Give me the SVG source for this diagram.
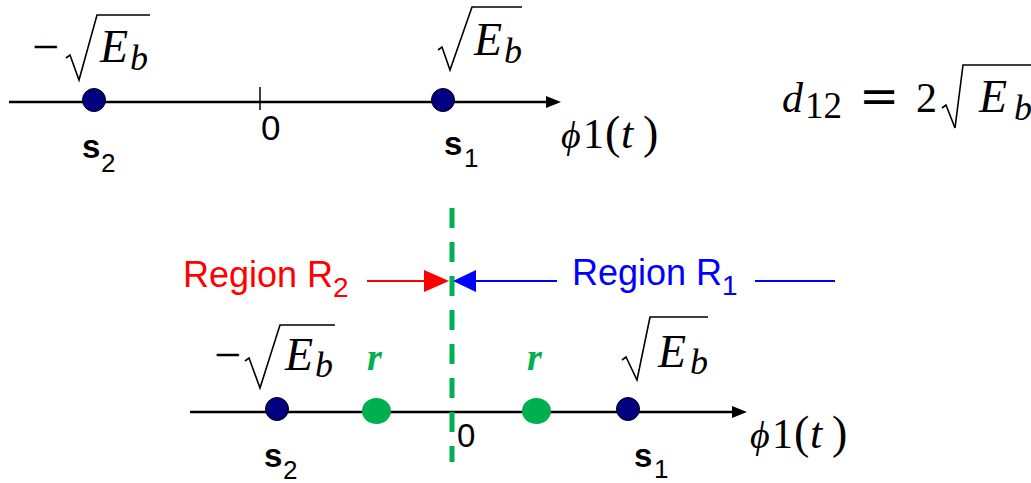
<svg xmlns="http://www.w3.org/2000/svg" width="1031" height="483" viewBox="0 0 1031 483">
<defs>
<style>
.m{font-family:"Liberation Serif","DejaVu Serif",serif;font-size:42px;fill:#000}
.mi{font-style:italic}
.e{font-size:46px}
.b{font-size:36px}
.ph{font-size:38px}
.p{font-size:46px}
.rad{fill:none;stroke:#000;stroke-width:1.6;stroke-linejoin:miter}
.axis{stroke:#000;stroke-width:2.5;fill:none}
.sl{font-family:"Liberation Sans",Arial,sans-serif;fill:#000}
.sb{font-weight:bold;font-size:33px}
.ss{font-size:26px}
.dot{fill:#000080;stroke:#000;stroke-width:1}
.g{fill:#00b050}
.zero{font-family:"Liberation Sans",Arial,sans-serif;fill:#000}
.reg{font-family:"Liberation Sans",Arial,sans-serif;font-size:36px}
.rr{font-family:"Liberation Serif",serif;font-style:italic;font-weight:bold;font-size:38px;fill:#00b050}
</style>
</defs>
<rect width="1031" height="483" fill="#fff"/>

<g id="connectors">
  <line class="axis" x1="9" y1="102" x2="549" y2="102"/>
  <polygon points="546,96 561,102 546,108" fill="#000"/>
  <line x1="260" y1="87" x2="260" y2="110" stroke="#000" stroke-width="1.5"/>
  <line class="axis" x1="190" y1="412" x2="735" y2="412"/>
  <polygon points="732,406 747,412 732,418" fill="#000"/>
  <line x1="452" y1="208" x2="452" y2="462" stroke="#00b050" stroke-width="5" stroke-dasharray="20 14"/>
  <line x1="367" y1="281" x2="426" y2="281" stroke="#ff0000" stroke-width="2"/>
  <polygon points="424,270 449,281 424,292" fill="#ff0000"/>
  <polygon points="476,270 453,281 476,292" fill="#0000ff"/>
  <line x1="474" y1="281" x2="557" y2="281" stroke="#0000ff" stroke-width="2"/>
  <line x1="755" y1="281" x2="835" y2="281" stroke="#0000ff" stroke-width="2"/>
</g>

<g id="s2-top">
  <circle class="dot" cx="94" cy="100" r="11.5"/>
  <text class="sl" y="158"><tspan class="sb" x="82">s</tspan><tspan class="ss" x="101" y="172">2</tspan></text>
  <text class="m" x="32" y="63" style="font-size:48px">−</text>
  <path class="rad" d="M66,58 L70,55 L79,80 L97,15 L150,15"/>
  <text class="m mi e" x="100" y="62">E</text>
  <text class="m mi b" x="130" y="70">b</text>
</g>

<g id="s1-top">
  <circle class="dot" cx="443" cy="100" r="11.5"/>
  <text class="sl" y="155"><tspan class="sb" x="444">s</tspan><tspan class="ss" x="464" y="167">1</tspan></text>
  <path class="rad" d="M438,50 L442,47 L450,70 L472,7 L522,7"/>
  <text class="m mi e" x="474" y="55">E</text>
  <text class="m mi b" x="504" y="63">b</text>
</g>

<g id="zero-top">
  <text class="zero" x="261" y="140" font-size="35">0</text>
</g>

<g id="phi-top">
  <text class="m mi ph" x="561" y="148">ϕ</text>
  <text class="m" x="583" y="148">1</text>
  <text class="m p" x="605" y="148">(</text>
  <text class="m mi" x="621" y="148" style="font-size:44px">t</text>
  <text class="m p" x="643" y="148">)</text>
</g>

<g id="d12">
  <text class="m mi" x="782" y="112">d</text>
  <text class="m" x="805" y="118" style="font-size:37px">12</text>
  <text x="859" y="113" font-family="DejaVu Serif,serif" font-size="48">=</text>
  <text class="m" x="916" y="112">2</text>
  <path class="rad" d="M942,108 L946,105 L955,128 L963,65 L1031,65"/>
  <text class="m mi e" x="979" y="112">E</text>
  <text class="m mi b" x="1014" y="120">b</text>
</g>

<g id="region-r2">
  <text class="reg" fill="#ff0000" x="183" y="287">Region R<tspan font-size="28" y="297">2</tspan></text>
</g>

<g id="region-r1">
  <text class="reg" fill="#0000ff" x="572" y="285">Region R<tspan font-size="28" y="295">1</tspan></text>
</g>

<g id="s2-bottom">
  <circle class="dot" cx="277" cy="409" r="11.5"/>
  <text class="sl" y="467"><tspan class="sb" x="264">s</tspan><tspan class="ss" x="283" y="479">2</tspan></text>
  <text class="m" x="214" y="371" style="font-size:48px">−</text>
  <path class="rad" d="M245,361 L249,358 L260,388 L280,325 L335,325"/>
  <text class="m mi e" x="285" y="370">E</text>
  <text class="m mi b" x="315" y="377">b</text>
</g>

<g id="r-left">
  <ellipse class="g" cx="376.5" cy="411" rx="14.5" ry="13"/>
  <text class="rr" x="367" y="370">r</text>
</g>

<g id="r-right">
  <ellipse class="g" cx="536.5" cy="411" rx="14.5" ry="13"/>
  <text class="rr" x="527" y="370">r</text>
</g>

<g id="s1-bottom">
  <circle class="dot" cx="628" cy="409" r="11.5"/>
  <text class="sl" y="467"><tspan class="sb" x="634">s</tspan><tspan class="ss" x="654" y="478">1</tspan></text>
  <path class="rad" d="M622,360 L626,357 L637,380 L650,317 L708,317"/>
  <text class="m mi e" x="658" y="367">E</text>
  <text class="m mi b" x="690" y="374">b</text>
</g>

<g id="zero-bottom">
  <text class="zero" x="457" y="447" font-size="33">0</text>
</g>

<g id="phi-bottom">
  <text class="m mi ph" x="750" y="448">ϕ</text>
  <text class="m" x="772" y="448">1</text>
  <text class="m p" x="794" y="448">(</text>
  <text class="m mi" x="810" y="448" style="font-size:44px">t</text>
  <text class="m p" x="832" y="448">)</text>
</g>
</svg>
